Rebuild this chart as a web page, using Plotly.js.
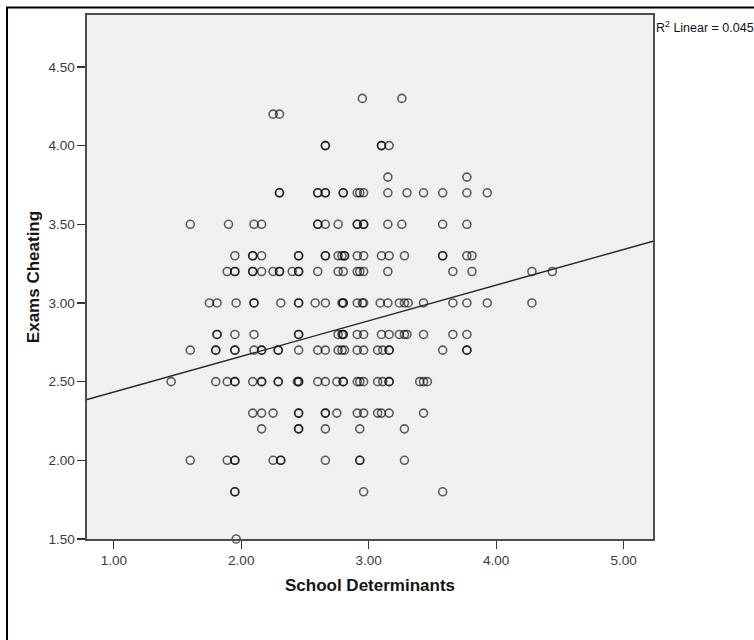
<!DOCTYPE html>
<html>
<head>
<meta charset="utf-8">
<script src="https://cdn.plot.ly/plotly-3.0.1.min.js"></script>
<style>
  html, body { margin: 0; padding: 0; background: #ffffff; }
  #chart { width: 754px; height: 640px; }
</style>
</head>
<body>
<div id="chart"></div>
<script>
// Exams Cheating levels (y) and the School Determinants scores (x) observed at each level
const cheatingLevels = [4.3, 4.2, 4.0, 3.8, 3.7, 3.5, 3.3, 3.2, 3.0, 2.8, 2.7, 2.5, 2.3, 2.2, 2.0, 1.8, 1.5];
const schoolAt_4_3 = [2.95, 3.26];
const schoolAt_4_2 = [2.25, 2.30];
const schoolAt_4_0 = [2.66, 2.66, 3.10, 3.10, 3.16];
const schoolAt_3_8 = [3.15, 3.77];
const schoolAt_3_7 = [2.30, 2.30, 2.60, 2.60, 2.66, 2.66, 2.80, 2.80, 2.91, 2.93, 2.96, 3.15, 3.30, 3.43, 3.58, 3.77, 3.93];
const schoolAt_3_5 = [1.60, 1.90, 2.10, 2.16, 2.60, 2.60, 2.66, 2.76, 2.91, 2.91, 2.96, 2.96, 3.15, 3.26, 3.58, 3.77];
const schoolAt_3_3 = [1.95, 2.09, 2.09, 2.16, 2.45, 2.45, 2.66, 2.66, 2.76, 2.79, 2.81, 2.81, 2.91, 2.96, 3.10, 3.16, 3.28, 3.58, 3.58, 3.77, 3.81];
const schoolAt_3_2 = [1.89, 1.95, 1.95, 2.09, 2.09, 2.16, 2.25, 2.30, 2.30, 2.40, 2.45, 2.45, 2.60, 2.76, 2.80, 2.91, 2.93, 2.96, 3.15, 3.66, 3.81, 4.28, 4.44];
const schoolAt_3_0 = [1.75, 1.81, 1.96, 2.10, 2.10, 2.31, 2.45, 2.45, 2.58, 2.66, 2.79, 2.80, 2.80, 2.91, 2.95, 2.96, 3.09, 3.15, 3.24, 3.28, 3.31, 3.43, 3.66, 3.77, 3.93, 4.28];
const schoolAt_2_8 = [1.81, 1.81, 1.95, 2.10, 2.45, 2.45, 2.76, 2.79, 2.80, 2.80, 2.91, 2.96, 3.10, 3.16, 3.24, 3.28, 3.30, 3.43, 3.66, 3.77];
const schoolAt_2_7 = [1.60, 1.80, 1.80, 1.95, 1.95, 2.10, 2.16, 2.16, 2.29, 2.29, 2.45, 2.60, 2.66, 2.76, 2.79, 2.81, 2.91, 2.96, 3.07, 3.11, 3.16, 3.16, 3.58, 3.77, 3.77];
const schoolAt_2_5 = [1.45, 1.80, 1.89, 1.95, 1.95, 2.09, 2.16, 2.16, 2.29, 2.29, 2.44, 2.45, 2.45, 2.60, 2.66, 2.75, 2.80, 2.80, 2.91, 2.93, 2.96, 3.07, 3.11, 3.16, 3.16, 3.40, 3.43, 3.46];
const schoolAt_2_3 = [2.09, 2.16, 2.25, 2.45, 2.45, 2.66, 2.66, 2.75, 2.91, 2.96, 3.07, 3.10, 3.16, 3.43];
const schoolAt_2_2 = [2.16, 2.45, 2.45, 2.66, 2.93, 3.28];
const schoolAt_2_0 = [1.60, 1.89, 1.95, 1.95, 2.25, 2.31, 2.31, 2.66, 2.93, 2.93, 3.28];
const schoolAt_1_8 = [1.95, 1.95, 2.96, 3.58];
const schoolAt_1_5 = [1.96];
const schoolByLevel = [schoolAt_4_3, schoolAt_4_2, schoolAt_4_0, schoolAt_3_8, schoolAt_3_7, schoolAt_3_5,
  schoolAt_3_3, schoolAt_3_2, schoolAt_3_0, schoolAt_2_8, schoolAt_2_7, schoolAt_2_5, schoolAt_2_3,
  schoolAt_2_2, schoolAt_2_0, schoolAt_1_8, schoolAt_1_5];

// Linear fit and its R²
const fitIntercept = 2.207;
const fitSlope = 0.2266;
const rSquaredLabel = 'R<sup>2</sup> Linear = 0.045';

const xTickVals = [1, 2, 3, 4, 5];
const yTickVals = [1.5, 2.0, 2.5, 3.0, 3.5, 4.0, 4.5];
const xTitle = 'School Determinants';
const yTitle = 'Exams Cheating';

const xRange = [0.79, 5.23];
const yRange = [1.5, 4.83];

const xs = [], ys = [];
cheatingLevels.forEach((lvl, i) => {
  schoolByLevel[i].forEach(v => { xs.push(v); ys.push(lvl); });
});

const fitX = [xRange[0], xRange[1]];
const fitY = fitX.map(v => fitIntercept + fitSlope * v);

const font = 'Liberation Sans, Arial, sans-serif';

const traces = [
  {
    type: 'scatter', mode: 'markers', x: xs, y: ys,
    marker: { symbol: 'circle-open', size: 8, color: 'rgba(0,0,0,0.62)', line: { width: 1.6, color: 'rgba(0,0,0,0.62)' } },
    hoverinfo: 'x+y', showlegend: false, cliponaxis: false
  },
  {
    type: 'scatter', mode: 'lines', x: fitX, y: fitY,
    line: { color: '#262626', width: 1.4 }, showlegend: false, hoverinfo: 'skip'
  }
];

const layout = {
  width: 754, height: 640,
  margin: { l: 87, r: 101, t: 15, b: 101 },
  paper_bgcolor: '#ffffff',
  plot_bgcolor: '#f0f0f0',
  font: { family: font, size: 13.5, color: '#3a3a3a' },
  xaxis: {
    range: xRange, tickvals: xTickVals, tickformat: '.2f',
    ticks: 'outside', ticklen: 8, tickwidth: 1.4, tickcolor: '#333333',
    showgrid: false, zeroline: false,
    showline: true, mirror: true, linecolor: '#4d4d4d', linewidth: 1.6,
    tickfont: { family: font, size: 13.5, color: '#3a3a3a' },
    title: { text: xTitle, font: { family: font, size: 17, color: '#151515', weight: 'bold' }, standoff: 12 }
  },
  yaxis: {
    range: yRange, tickvals: yTickVals, tickformat: '.2f',
    ticks: 'outside', ticklen: 8, tickwidth: 1.4, tickcolor: '#333333',
    showgrid: false, zeroline: false,
    showline: true, mirror: true, linecolor: '#4d4d4d', linewidth: 1.6,
    tickfont: { family: font, size: 13.5, color: '#3a3a3a' },
    title: { text: yTitle, font: { family: font, size: 17, color: '#151515', weight: 'bold' }, standoff: 4 }
  },
  annotations: [
    {
      xref: 'paper', yref: 'paper', x: 1.002, y: 0.977, xanchor: 'left', yanchor: 'middle',
      text: rSquaredLabel, showarrow: false, font: { family: font, size: 12.5, color: '#111111' }
    }
  ],
  shapes: [
    {
      type: 'rect', xref: 'paper', yref: 'paper',
      x0: -0.1413, x1: 1.25, y0: -0.25, y1: 1.0143,
      line: { color: '#000000', width: 2 }, fillcolor: 'rgba(0,0,0,0)', layer: 'above'
    }
  ]
};

Plotly.newPlot('chart', traces, layout, { staticPlot: true, displayModeBar: false });
</script>
</body>
</html>
